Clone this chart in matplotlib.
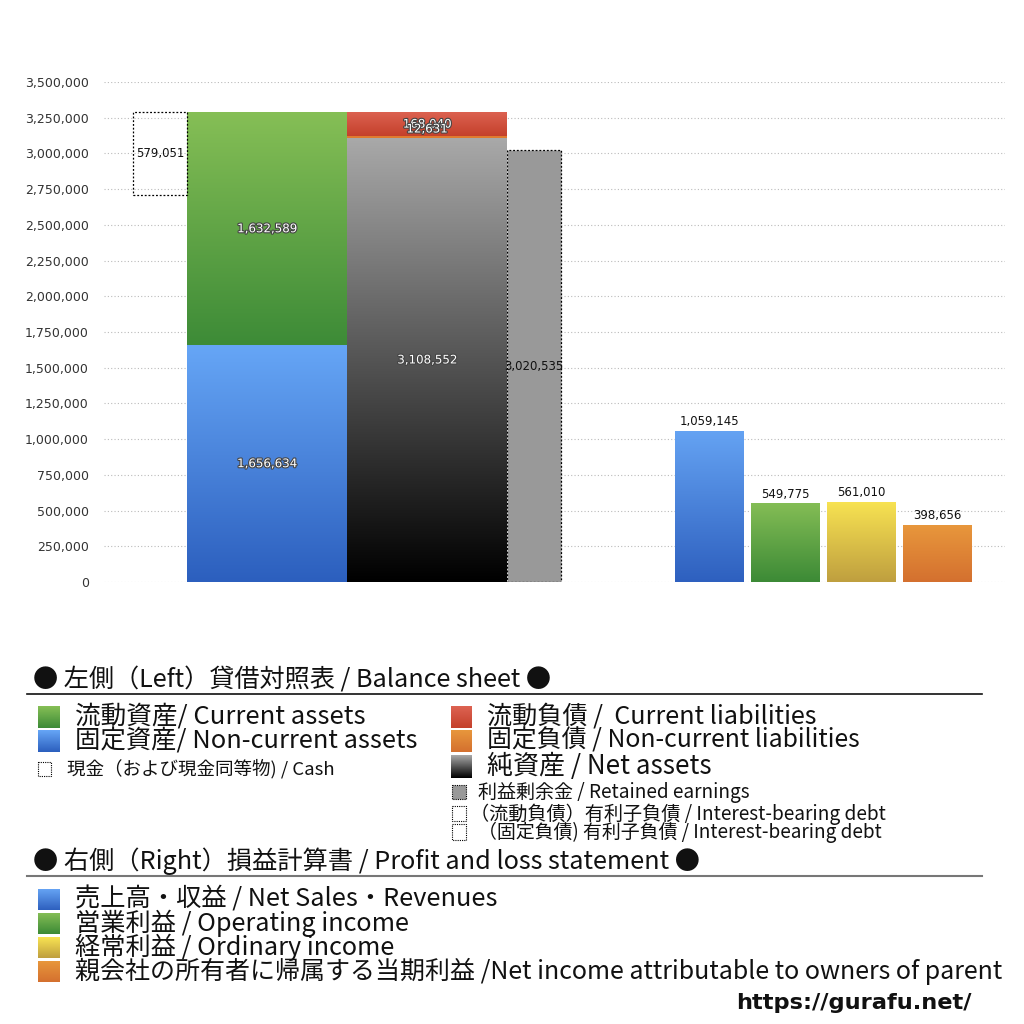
import matplotlib
matplotlib.use('Agg')
import matplotlib.pyplot as plt
import numpy as np
from matplotlib.colors import LinearSegmentedColormap
from matplotlib.patches import Rectangle
import matplotlib.patheffects as pe

plt.rcParams['font.family'] = ['Noto Sans CJK JP', 'DejaVu Sans']

# ---------------- data ----------------
noncurrent_assets = 1656634
current_assets = 1632589
current_liabilities = 168040
noncurrent_liabilities = 12631
net_assets = 3108552
cash = 579051
retained_earnings = 3020535

pl_labels = ['売上高・収益', '営業利益', '経常利益', '親会社の所有者に帰属する当期利益']
pl_values = [1059145, 549775, 561010, 398656]

y_ticks = list(range(0, 3500001, 250000))

# ---------------- figure ----------------
fig = plt.figure(figsize=(10.24, 10.24), dpi=100)
ax = fig.add_axes([104/1024, 1-582/1024, (1005-104)/1024, 500/1024])
ax.set_xlim(104, 1005)
ax.set_ylim(0, 3500000)


def grad_bar(x0, x1, bottom, height, top_c, bot_c, z=2):
    bars = ax.bar(x0, height, width=x1-x0, bottom=bottom, align='edge',
                  color=bot_c, linewidth=0, zorder=z)
    rect = bars[0]
    cmap = LinearSegmentedColormap.from_list('g', [bot_c, top_c])
    grad = np.linspace(0, 1, 256).reshape(-1, 1)
    im = ax.imshow(grad, cmap=cmap, extent=(x0, x1, bottom, bottom+height),
                   origin='lower', aspect='auto', zorder=z+0.1,
                   interpolation='bilinear')
    im.set_clip_path(rect)
    return rect


white_fx = [pe.withStroke(linewidth=1.6, foreground='#444444')]

# assets column
grad_bar(187, 347, 0, noncurrent_assets, '#66A6F6', '#2C5FBE')
grad_bar(187, 347, noncurrent_assets, current_assets, '#86BF56', '#3D8B37')
ax.text(267, noncurrent_assets/2, f'{noncurrent_assets:,}', ha='center', va='center',
        fontsize=8.5, color='white', family='DejaVu Sans', path_effects=white_fx, zorder=5)
ax.text(267, noncurrent_assets + current_assets/2, f'{current_assets:,}', ha='center', va='center',
        fontsize=8.5, color='white', family='DejaVu Sans', path_effects=white_fx, zorder=5)

# liabilities + net assets column
grad_bar(347, 507, 0, net_assets, '#A9A9A9', '#000000')
ax.bar(347, noncurrent_liabilities, width=160, bottom=net_assets, align='edge',
       color='#E07B2E', linewidth=0, zorder=2)
grad_bar(347, 507, net_assets + noncurrent_liabilities, current_liabilities, '#DD6352', '#C4402B')
ax.text(427, net_assets/2, f'{net_assets:,}', ha='center', va='center',
        fontsize=8.5, color='white', family='DejaVu Sans', path_effects=white_fx, zorder=5)
ax.text(427, net_assets + noncurrent_liabilities + current_liabilities/2, f'{current_liabilities:,}',
        ha='center', va='center', fontsize=8.5, color='white', family='DejaVu Sans',
        path_effects=white_fx, zorder=5)
ax.text(427, net_assets + noncurrent_liabilities + 50000, f'{noncurrent_liabilities:,}',
        ha='center', va='center', fontsize=8.5, color='white', family='DejaVu Sans',
        path_effects=white_fx, zorder=5)

# cash (dotted box)
total_assets = noncurrent_assets + current_assets
ax.bar(133, cash, width=54, bottom=total_assets - cash, align='edge', fill=False,
       edgecolor='black', linewidth=0.9, linestyle=(0, (1.5, 1.5)), zorder=3)
ax.text(160, total_assets - cash/2, f'{cash:,}', ha='center', va='center',
        fontsize=8.5, color='#111111', family='DejaVu Sans', zorder=5)

# retained earnings
ax.bar(507, retained_earnings, width=54, align='edge', color='#999999',
       edgecolor='black', linewidth=0.9, linestyle=(0, (1.5, 1.5)), zorder=2)
ax.text(534, retained_earnings/2, f'{retained_earnings:,}', ha='center', va='center',
        fontsize=8.5, color='#111111', family='DejaVu Sans', zorder=5)

# P&L bars
pl_x = [675, 751, 827, 903]
pl_cols = [('#65A3F3', '#2E60BF'), ('#84BD55', '#3C8A36'),
           ('#F8E352', '#BF9F3F'), ('#E8973C', '#D4702F')]
for x0, v, (tc, bc) in zip(pl_x, pl_values, pl_cols):
    grad_bar(x0, x0 + 69, 0, v, tc, bc)
    ax.text(x0 + 34.5, v + 20000, f'{v:,}', ha='center', va='bottom',
            fontsize=8.5, color='#111111', family='DejaVu Sans', zorder=5)

ax.set_xlim(104, 1005)
ax.set_ylim(0, 3500000)
ax.set_yticks(y_ticks)
ax.set_yticklabels([f'{t:,}' for t in y_ticks], family='DejaVu Sans', fontsize=9, color='#333333')
ax.tick_params(axis='y', length=0, pad=11)
ax.set_xticks([])
ax.yaxis.grid(True, linestyle=(0, (1, 2)), color='#bbbbbb', linewidth=0.8)
ax.set_axisbelow(True)
for s in ax.spines.values():
    s.set_visible(False)

# ---------------- legend (pixel coordinates overlay) ----------------
lax = fig.add_axes([0, 0, 1, 1], zorder=-1)
lax.set_xlim(0, 1024)
lax.set_ylim(1024, 0)
lax.axis('off')

renderer = fig.canvas.get_renderer()
texts = []


def txt(x, y, s, size, right, ha='left', **kw):
    t = lax.text(x, y, s, ha=ha, va='center', fontsize=size, color='#111111', **kw)
    texts.append((t, right - x if ha == 'left' else x - right))
    return t


def grad_sq(x0, y0, w, h, top_c, bot_c):
    cmap = LinearSegmentedColormap.from_list('g', [top_c, bot_c])
    grad = np.linspace(0, 1, 64).reshape(-1, 1)
    lax.imshow(grad, cmap=cmap, extent=(x0, x0 + w, y0 + h, y0), origin='upper',
               aspect='auto', interpolation='bilinear')


def dot_sq(x0, y0, w, h, fc='none'):
    lax.add_patch(Rectangle((x0, y0), w, h, facecolor=fc, edgecolor='black',
                            linewidth=0.8, linestyle=(0, (1, 1))))


txt(33, 680, '● 左側（Left）貸借対照表 / Balance sheet ●', 16, 552)
lax.plot([27, 982], [694, 694], color='#111111', linewidth=1.2)

grad_sq(38, 706, 22, 22, '#86BF56', '#3D8B37')
txt(75, 717, '流動資産/ Current assets', 16, 365)
grad_sq(38, 730, 22, 22, '#66A6F6', '#2C5FBE')
txt(75, 741, '固定資産/ Non-current assets', 16, 417)
dot_sq(38, 762, 13, 14)
txt(67, 769, '現金（および現金同等物) / Cash', 11, 335)

grad_sq(451, 706, 21, 22, '#DD6352', '#C4402B')
txt(487, 717, '流動負債 /  Current liabilities', 16, 817)
grad_sq(451, 730, 21, 22, '#E8973C', '#D4702F')
txt(487, 741, '固定負債 / Non-current liabilities', 16, 861)
grad_sq(451, 755, 21, 23, '#A9A9A9', '#000000')
txt(487, 766, '純資産 / Net assets', 16, 711)
dot_sq(452, 785, 14, 14, fc='#999999')
txt(478, 792, '利益剰余金 / Retained earnings', 11, 749)
dot_sq(452, 806, 14, 15)
txt(470, 814, '（流動負債）有利子負債 / Interest-bearing debt', 11, 886)
dot_sq(452, 824, 14, 16)
txt(478, 832, '（固定負債) 有利子負債 / Interest-bearing debt', 11, 881)

txt(33, 861, '● 右側（Right）損益計算書 / Profit and loss statement ●', 16, 700)
lax.plot([27, 982], [876, 876], color='#777777', linewidth=1.5)

pl_en = ['Net Sales・Revenues', 'Operating income', 'Ordinary income',
         'Net income attributable to owners of parent']
pl_right = [497, 409, 394, 1003]
pl_seps = [' / ', ' / ', ' / ', ' /']
for i, ((tc, bc), jp, en, sep, r) in enumerate(zip(pl_cols, pl_labels, pl_en, pl_seps, pl_right)):
    y = 899 + 24 * i
    grad_sq(38, y - 10, 22, 21, tc, bc)
    txt(75, y, jp + sep + en, 16, r)

txt(972, 1003, 'https://gurafu.net/', 15, 736, ha='right', fontweight='bold',
    family=['DejaVu Sans'])

# fit text widths to the reference layout
for t, target in texts:
    bb = t.get_window_extent(renderer)
    t.set_fontsize(t.get_fontsize() * target / bb.width)

fig.savefig('out.png', dpi=100, facecolor='white')
